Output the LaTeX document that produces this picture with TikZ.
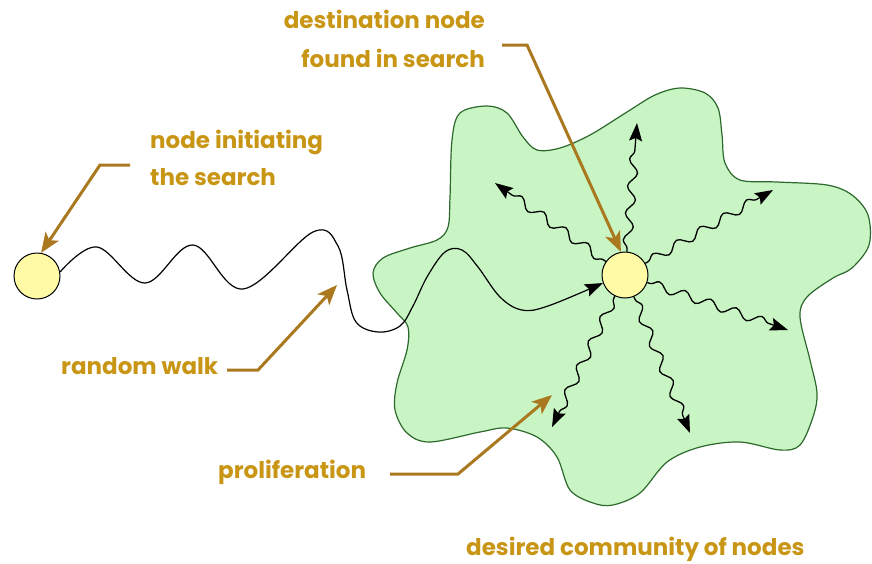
\documentclass[tikz,border=0pt]{standalone}
\usepackage{fontspec}
\setmainfont{Poppins}
\usetikzlibrary{arrows.meta,decorations.pathmorphing}
\definecolor{blobfill}{RGB}{200,245,195}
\definecolor{blobline}{RGB}{45,105,45}
\definecolor{nodefill}{RGB}{255,250,165}
\definecolor{txt}{RGB}{200,150,20}
\definecolor{ann}{RGB}{170,120,30}
\begin{document}
\begin{tikzpicture}[x=1pt,y=-1pt,
  lbl/.style={text=txt, font=\bfseries\fontsize{23}{27}\selectfont, inner sep=0pt},
  netnode/.style={circle, draw=black, line width=1pt, fill=nodefill, minimum size=46pt, inner sep=0pt},
  annarrow/.style={draw=ann, line width=3pt, -{Stealth[length=20pt,width=16pt,inset=5pt]}},
  wavy/.style={draw=black, line width=1.3pt, decorate,
    decoration={snake, amplitude=4.5pt, segment length=27pt, pre length=3pt, post length=16pt},
    -{Stealth[length=18pt,width=13pt,inset=3pt]}},
  walk/.style={draw=black, line width=1.2pt, -{Stealth[length=18pt,width=13pt,inset=3pt]}}
]
\useasboundingbox (0,0) rectangle (872,563);
% community blob
\path[fill=blobfill, draw=blobline, line width=1.2pt]
  plot[smooth cycle, tension=0.55] coordinates {
  (373,273) (383,258) (410,248) (437,240) (448,227) (450,197) (452,140) (460,113)
  (487,106) (507,113) (523,137) (537,150) (560,148) (590,135) (627,112) (655,95)
  (680,88) (705,93) (718,108) (722,135) (725,163) (740,180) (777,182) (827,185)
  (852,195) (868,215) (869,245) (852,268) (833,278) (807,297) (800,317) (810,360)
  (817,393) (813,417) (800,445) (780,450) (740,442) (700,447) (667,462) (640,493)
  (613,505) (593,503) (570,490) (557,457) (537,437) (507,428) (480,432) (430,442)
  (407,433) (395,410) (397,383) (407,350) (408,327) (397,313) (380,293)};
% nodes
\node[netnode] (start) at (37,276) {};
\node[netnode] (dest) at (625,275) {};
% random walk
\draw[walk] plot[smooth, tension=0.6] coordinates {(start.10) (97,247) (145,283) (193,245)
  (243,289) (313,232) (338,246) (347,290) (356,322) (378,332) (400,326) (413,306)
  (427,277) (445,252) (462,250) (478,267) (500,297) (522,310) (548,306) (dest.200)};
% proliferation
\coordinate (w1) at (637,123);
\coordinate (w2) at (495,183);
\coordinate (w3) at (773,190);
\coordinate (w4) at (788,330);
\coordinate (w5) at (690,433);
\coordinate (w6) at (552,427);
\foreach \w in {w1,w2,w3,w4,w5,w6} \draw[wavy] (dest) -- (\w);
% labels
\node[lbl, anchor=base west] (l1a) at (150,148) {node initiating};
\node[lbl, anchor=base west] (l1b) at (150,185) {the search};
\node[lbl, anchor=base east] (l2a) at (485,28) {destination node};
\node[lbl, anchor=base east] (l2b) at (485,67) {found in search};
\node[lbl, anchor=base west] (l3) at (61,374) {random walk};
\node[lbl, anchor=base west] (l4) at (218,478) {proliferation};
\node[lbl, anchor=base west] (l5) at (466,555) {desired community of nodes};
% annotation arrows
\coordinate (a1) at (130,165);
\coordinate (a1k) at (100,165);
\coordinate (a2) at (502,45);
\coordinate (a2k) at (527,45);
\coordinate (a3) at (227,370);
\coordinate (a3k) at (258,370);
\coordinate (a4) at (390,474);
\coordinate (a4k) at (458,474);
\coordinate (t3) at (337,285);
\coordinate (t4) at (552,395);
\draw[annarrow] (a1) -- (a1k) -- (start.80);
\draw[annarrow] (a2) -- (a2k) -- (dest.100);
\draw[annarrow] (a3) -- (a3k) -- (t3);
\draw[annarrow] (a4) -- (a4k) -- (t4);
\end{tikzpicture}
\end{document}
